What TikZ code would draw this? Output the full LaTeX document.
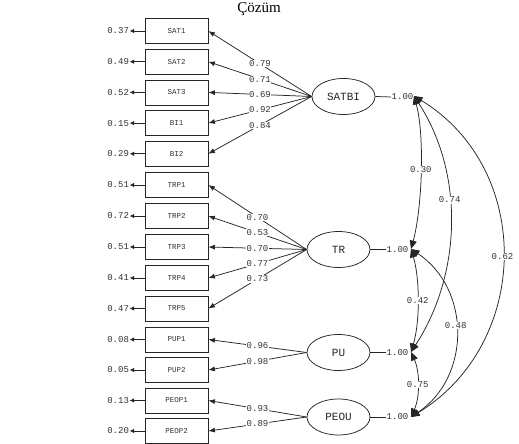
\documentclass[tikz,border=0pt]{standalone}
\usepackage{fontspec}
\setmainfont{Liberation Serif}
\newfontfamily\lmono{Liberation Mono}
\usetikzlibrary{arrows.meta,shapes.geometric}
\begin{document}
\begin{tikzpicture}[x=1pt,y=-1pt,
  ink/.style={draw=black!85, line width=0.75pt},
  ind/.style={ink, rectangle, minimum width=63pt, minimum height=25pt, inner sep=0pt,
    text=black!80, font=\lmono\fontsize{7.5}{8}\selectfont},
  lat/.style={ink, ellipse, minimum width=63pt, minimum height=36pt, inner sep=0pt,
    text=black!85, font=\lmono\fontsize{11}{12}\selectfont},
  num/.style={text=black!80, font=\lmono\fontsize{9}{10}\selectfont, inner sep=0.5pt},
  lab/.style={num, fill=white},
  load/.style={ink, -{Latex[length=6.5pt,width=5pt]}},
  err/.style={ink, -{Latex[length=4.5pt,width=4.5pt]}},
  cov/.style={ink, {Triangle[length=8.5pt,width=7pt]}-{Triangle[length=8.5pt,width=7pt]}},
]
\useasboundingbox (0,0) rectangle (519,444);
\fill[white] (0,0) rectangle (519,444);

\node[font=\fontsize{15}{17}\selectfont, inner sep=0pt] (title) at (259,9) {Çözüm};

% indicators
\node[ind] (b1) at (176.5,31) {SAT1};
\node[ind] (b2) at (176.5,61.7) {SAT2};
\node[ind] (b3) at (176.5,92.4) {SAT3};
\node[ind] (b4) at (176.5,123.1) {BI1};
\node[ind] (b5) at (176.5,153.8) {BI2};
\node[ind] (b6) at (176.5,185) {TRP1};
\node[ind] (b7) at (176.5,216) {TRP2};
\node[ind] (b8) at (176.5,247) {TRP3};
\node[ind] (b9) at (176.5,278) {TRP4};
\node[ind] (b10) at (176.5,308.5) {TRP5};
\node[ind] (b11) at (176.5,339.5) {PUP1};
\node[ind] (b12) at (176.5,370) {PUP2};
\node[ind] (b13) at (176.5,400.5) {PEOP1};
\node[ind] (b14) at (176.5,431) {PEOP2};

% error variances
\foreach \i/\v in {1/0.37,2/0.49,3/0.52,4/0.15,5/0.29,6/0.51,7/0.72,8/0.51,9/0.41,10/0.47,11/0.08,12/0.05,13/0.13,14/0.20}{
  \node[num, anchor=east] (e\i) at ([xshift=-15pt]b\i.west) {\v};
  \draw[err] (b\i.west) -- (e\i.east);
}

% latent variables
\node[lat] (SATBI) at (343.5,96.5) {SATBI};
\node[lat] (TR) at (338.5,249.5) {TR};
\node[lat] (PU) at (338.5,352.5) {PU};
\node[lat] (PEOU) at (338.5,417) {PEOU};

% loadings
\draw[load] (SATBI.west) -- node[lab]{0.79} (b1.east);
\draw[load] (SATBI.west) -- node[lab]{0.71} (b2.east);
\draw[load] (SATBI.west) -- node[lab]{0.69} (b3.east);
\draw[load] (SATBI.west) -- node[lab]{0.92} (b4.east);
\draw[load] (SATBI.west) -- node[lab]{0.84} (b5.east);
\draw[load] (TR.west) -- node[lab]{0.70} (b6.east);
\draw[load] (TR.west) -- node[lab]{0.53} (b7.east);
\draw[load] (TR.west) -- node[lab]{0.70} (b8.east);
\draw[load] (TR.west) -- node[lab]{0.77} (b9.east);
\draw[load] (TR.west) -- node[lab]{0.73} (b10.east);
\draw[load] (PU.west) -- node[lab]{0.96} (b11.east);
\draw[load] (PU.west) -- node[lab]{0.98} (b12.east);
\draw[load] (PEOU.west) -- node[lab]{0.93} (b13.east);
\draw[load] (PEOU.west) -- node[lab]{0.89} (b14.east);

% variances of latent variables
\node[num, anchor=west] (v1) at (391,97) {1.00};
\node[num, anchor=west] (v2) at (386,249.5) {1.00};
\node[num, anchor=west] (v3) at (386,352.5) {1.00};
\node[num, anchor=west] (v4) at (386,417) {1.00};
\draw[ink] (SATBI.east) -- (v1.west);
\draw[ink] (TR.east) -- (v2.west);
\draw[ink] (PU.east) -- (v3.west);
\draw[ink] (PEOU.east) -- (v4.west);

\coordinate (cA) at (414,96);
\coordinate (cB) at (411,249);
\coordinate (cC) at (411,352);
\coordinate (cD) at (411,417);

% covariances
\draw[cov] (cA) .. controls (425,136) and (422,209) .. node[lab, pos=0.48]{0.30} (cB);
\draw[cov] (cA) .. controls (464.6,173.7) and (461.6,274.3) .. node[lab, pos=0.41]{0.74} (cC);
\draw[cov] (cA) .. controls (534,169) and (531,344) .. node[lab, pos=0.5]{0.62} (cD);
\draw[cov] (cB) .. controls (420,279) and (420,322) .. node[lab, pos=0.5]{0.42} (cC);
\draw[cov] (cB) .. controls (471,289) and (471,377) .. node[lab, pos=0.46]{0.48} (cD);
\draw[cov] (cC) .. controls (420,372) and (420,397) .. node[lab, pos=0.5]{0.75} (cD);
\end{tikzpicture}
\end{document}
